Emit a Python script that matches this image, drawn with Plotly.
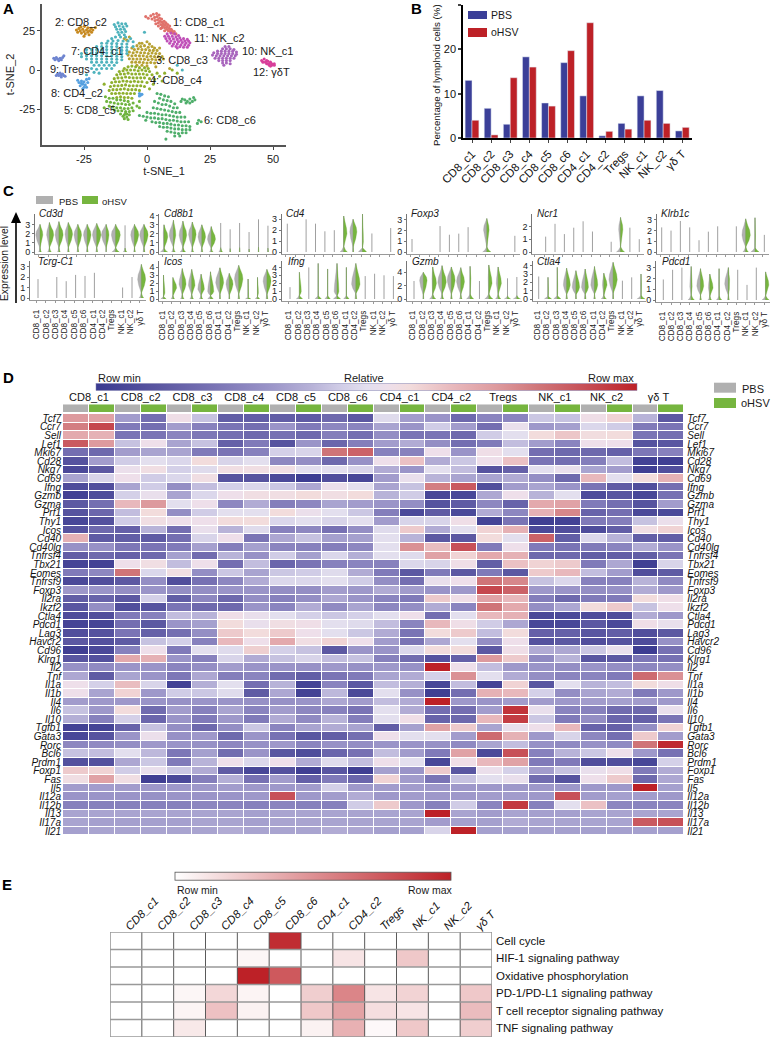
import plotly.graph_objects as go

W, H = 777, 1039
FONT = "Liberation Sans"
CLUSTERS = ["CD8_c1","CD8_c2","CD8_c3","CD8_c4","CD8_c5","CD8_c6","CD4_c1","CD4_c2","Tregs","NK_c1","NK_c2","γδ T"]

# ---------- Panel A: t-SNE points ----------
pts_c1 = [(0.5,33),(1.5,34.5),(2,32.5),(2.5,35.5),(3,33.5),(3.2,31.5),(3.8,36),(4,34),(4.2,32),(4.5,30),(4.8,35),(5,33),(5.2,31),(5.5,29),(5.8,32.5),(6,30.5),(6.2,28),(6.5,29.5),(6.8,31),(7,27),(7.2,28.5),(7.5,30),(7.8,26),(8,27.5),(8.2,29),(8.5,25),(8.8,26.5),(9,28),(9.3,24.5),(9.6,26),(10,25),(10.3,23.5),(10.8,24.5),(5.5,26.5),(6,27),(-0.5,34),(3.5,29.5),(4.5,28),(7,25),(11.5,23)]
pts_c2 = [(-28,25.5),(-27.5,24),(-27,26.5),(-26.5,25),(-26.2,27.5),(-26,23.5),(-25.5,26),(-25,24.5),(-24.8,27.8),(-24.5,23),(-24,25.5),(-23.5,26.8),(-23.5,24),(-23,22.5),(-22.8,25),(-22.2,26.5),(-22,24),(-21.5,25.5),(-25,21.5),(-20.5,27)]
pts_c3 = [(-2,17),(0,18),(1,16.5),(-4,15.5),(-2.5,15),(-1,15.5),(0.5,14.5),(2,15),(3,14),(-6,14),(-5,13),(-3.5,13.5),(-2,13),(-0.5,13),(1,12.5),(2.5,12.5),(4,12.5),(-7,11.5),(-5.5,11),(-4,11.5),(-2.5,11),(-1,11),(0.5,10.5),(2,10.8),(3.5,10.5),(5,10.5),(-7.5,9.5),(-6,9),(-4.5,9.2),(-3,9),(-1.5,9),(0,8.5),(1.5,8.8),(3,8.5),(4.5,8.5),(6,8.5),(-7,7.2),(-5.5,7),(-4,7),(-2.5,7),(-1,6.8),(0.5,6.5),(2,6.8),(3.5,6.5),(5,6.5),(-6,5),(-4.5,5),(-3,5),(-1.5,4.8),(0,4.5),(1.5,4.8),(3,4.5),(-4,3),(-2,3),(0,2.5),(5,14),(6.5,7),(-3,17),(3.5,2),(9,1),(-9,20),(-8,19),(-7,21)]
pts_c4 = [(-9,1),(-7.5,2),(-6,2.5),(-4.5,2),(-3,1.5),(-1,1.5),(0.5,1),(-11,-1),(-9.5,-0.5),(-8,0),(-6.5,0),(-5,0),(-3.5,-0.5),(-2,0),(-0.5,-0.5),(1,-1),(-12,-3),(-10.5,-2.5),(-9,-2.5),(-7.5,-2),(-6,-2.5),(-4.5,-2.5),(-3,-2.5),(-1.5,-2.5),(0,-3),(2,-3),(-13,-5.5),(-11.5,-5),(-10,-5),(-8.5,-4.5),(-7,-4.8),(-5.5,-5),(-4,-5),(-2.5,-5),(-1,-5),(1,-5.5),(3,-6),(-14,-8),(-12.5,-7.5),(-11,-7.5),(-9.5,-7),(-8,-7.2),(-6.5,-7.5),(-5,-7.2),(-3.5,-7.5),(-2,-7.5),(0,-8),(2.5,-9),(-14.5,-10.5),(-13,-10),(-11.5,-10),(-10,-9.8),(-8.5,-9.5),(-7,-10),(-5.5,-10),(-4,-10),(-2.5,-10),(-1,-10.5),(1,-12),(-15,-13),(-13.5,-12.5),(-12,-12.5),(-10.5,-12.3),(-9,-12),(-7.5,-12.5),(-6,-12.5),(-4.5,-12.5),(-3,-13),(-14,-15),(-12.5,-15),(-11,-14.8),(-9.5,-14.8),(-8,-15),(-6.5,-15),(-5,-15),(-12,-17.5),(-10.5,-17),(-9,-17.5),(-7.5,-17.5),(-6,-18),(5,-4),(6,-7),(-17,-9),(4,-2),(7,-2),(10,0),(12,-2)]
pts_c5 = [(-16.5,-17),(-15,-18),(-13.5,-18),(-12,-19),(-10.5,-19),(-9,-19.5),(-7.5,-20),(-16,-20),(-14.5,-20.5),(-13,-21),(-11.5,-21.5),(-10,-21.5),(-8.5,-22),(-7,-22),(-5.5,-21),(-15,-23),(-13.5,-23.5),(-12,-24),(-10.5,-24),(-9,-24.5),(-7.5,-24.5),(-6,-24),(-4,-23),(-13,-25.5),(-11.5,-26),(-10,-26),(-8.5,-26.5),(-7,-26.5),(-5.5,-26),(-10.5,-28),(-9,-28.5),(-8,-28),(-7,-28.5),(-9.5,-29.5),(-8,-30),(-7.5,-31.5),(-9,-31),(-8.5,-27.5),(-3,-20),(-17,-24),(-3,-24)]
pts_c6 = [(4,-15),(5.5,-15.5),(7,-16.5),(8.5,-17),(5,-18),(6.5,-19),(8,-19.5),(9.5,-20),(11,-21.5),(3,-20),(4.5,-21),(6,-22),(7.5,-22),(9,-23),(10.5,-24),(12,-24),(2.5,-24),(4,-24.5),(5.5,-25),(7,-25.5),(8.5,-26),(10,-26.5),(11.5,-27),(13,-27),(0,-27),(1.5,-27.5),(3,-27.5),(4.5,-28),(6,-28.5),(7.5,-28.5),(9,-29),(10.5,-29.5),(12,-30),(13.5,-30),(15,-30),(-3,-29),(-1.5,-29.5),(0,-30),(1.5,-30.5),(3,-30.5),(4.5,-31),(6,-31),(7.5,-31.5),(9,-32),(10.5,-32),(12,-32.5),(13.5,-33),(15,-33),(16.5,-33),(-0.5,-32),(2,-33),(3.5,-33.5),(5,-33.5),(6.5,-34),(8,-34),(9.5,-34.5),(11,-35),(12.5,-35),(14,-35.5),(15.5,-35.5),(17,-36),(5,-36),(6.5,-36.5),(8,-36.5),(9.5,-37),(11,-37.5),(12.5,-37.5),(14,-38),(15.5,-38),(17,-38),(8,-39),(9.5,-39.5),(11,-40),(12.5,-40.5),(14,-40),(15.5,-40),(11,-42),(13,-42),(7.5,-44),(13.5,-20),(15,-19),(16,-20),(17,-18.5),(18,-20),(19,-19),(15.5,-21),(17,-21),(14,-18.5),(18.5,-17.5),(20.5,-32),(21.5,-33),(20,-34)]
pts_c7 = [(-13,29),(-11.5,30),(-10,29.5),(-8.5,29.5),(-12.5,27.5),(-11,28),(-9.5,27.5),(-8,28),(-12,26),(-10.5,26),(-9,26),(-11.5,24),(-10,24),(-8.5,24.5),(-11,22.5),(-9,22.5),(-12.5,21),(-10.5,21),(-8.5,21),(-14,20),(-6.5,20),(-15.5,18.5),(-13.5,18.5),(-11.5,18.8),(-9.5,18.5),(-7.5,18.5),(-5.5,18),(-18,17),(-16,17),(-14,16.8),(-12,16.8),(-10,16.5),(-8,16.5),(-20,15),(-18,15),(-16,15),(-14,14.8),(-12,15),(-10,14.5),(-8,14.5),(-5.5,15),(-24,13),(-22,13),(-20,13),(-18,13),(-16,13),(-14,13),(-12,12.8),(-10,12.5),(-8,12.5),(-26,10.5),(-24,11),(-22,11),(-20,11),(-18,11),(-16,11),(-14,11),(-12,10.8),(-10,10.5),(-8,10.5),(-26,8.5),(-24,9),(-22,9),(-20,9),(-18,9),(-16,9),(-14,9),(-12,8.8),(-10,8.5),(-24,7),(-22,7),(-20,7),(-18,7),(-16,7),(-14,7),(-12,6.8),(-10,6.5),(-22,5),(-20,5),(-18,5),(-16,5),(-14,5),(-12,4.8),(-21,3),(-19,3),(-17,3),(-15,3),(-13,3),(-22,1),(-20,0.5),(-18,1),(-16,1),(-14,1),(-21,-1.5),(-19,-2),(-24,-3),(12,3),(14,0),(-1,24)]
pts_c8 = [(-27,-8),(-26,-7),(-25.5,-9),(-26.5,-10),(-25,-11),(-25,-7.5),(-24.5,-9.5),(-24,-6),(-23.5,-8),(-25.5,-12),(-26,-8.5),(-24,-11),(-23,-5.5),(-27.5,-6.5),(-3,-15),(-2.5,-16),(-2,-15.5),(-3,-16.5)]
pts_c9 = [(-37,7.5),(-36.5,6.5),(-36,8),(-35.5,7),(-35,6),(-34.5,7.5),(-34,6.5),(-33.5,8),(-33,9),(-35.5,-2.5),(-35,-3.5),(-34.5,-2),(-34,-3),(-34,-4.5),(-33.5,-2.5),(-33,-3.5),(-32.5,-4),(-36,-3.5)]
pts_c10 = [(31,15),(32.5,15),(30,13.5),(31.5,13.5),(33,13.5),(34.5,13),(28,12),(29.5,12),(31,12),(32.5,12),(34,12),(35.5,11.5),(26.5,11),(28,10.5),(29.5,10.5),(31,10.5),(32.5,10.5),(34,10.5),(35.5,10),(26,9.5),(27.5,9),(29,9),(30.5,9),(32,9),(33.5,9),(35,9),(27,7.5),(28.5,7.5),(30,7.5),(31.5,7.5),(33,7.5),(34.5,7.5),(28.5,6),(30,6),(31.5,6),(33,6),(30,4.5),(31.5,4.5),(33,4),(30.5,3)]
pts_c11 = [(8,23),(9.5,23.5),(11,23),(12.5,22),(7,21.5),(8.5,21.5),(10,21.5),(11.5,21),(13,20.5),(14.5,20),(16,19.5),(7.5,20),(9,20),(10.5,19.8),(12,19.5),(13.5,19),(15,18.5),(16.5,18.5),(8,18.5),(9.5,18.5),(11,18),(12.5,18),(14,17.5),(15.5,17.2),(17,17.3),(9,17),(10.5,16.5),(12,16.5),(13.5,16),(15,16),(16.5,15.8),(10,15.3),(11.5,15),(13,14.8),(14.5,14.5),(16,14.5),(12,14)]
pts_c12 = [(45.5,6),(46.5,7),(47.5,6),(46,5),(47,5),(48,5.5),(49,5),(47.5,4),(48.5,4),(49.5,4),(50.5,4),(48.5,3),(49.5,3),(50.5,3),(49,2.5)]
tsne_sets = [pts_c1,pts_c2,pts_c3,pts_c4,pts_c5,pts_c6,pts_c7,pts_c8,pts_c9,pts_c10,pts_c11,pts_c12]
tsne_colors = ["#e0726b","#c7891f","#b7a132","#8fb02e","#6fb43f","#4fae6b","#4fb3bd","#55a0e0","#6f85d0","#a865bd","#c050b8","#d83f9a"]
tsne_labels = ["1: CD8_c1","2: CD8_c2","3: CD8_c3","4: CD8_c4","5: CD8_c5","6: CD8_c6","7: CD4_c1","8: CD4_c2","9: Tregs","10: NK_c1","11: NK_c2","12: γδT"]

# ---------- Panel B ----------
pbs_pct = [13,6.7,3.1,18.3,7.9,17,9.5,0.5,3.3,9.5,10.7,1.6]
ohsv_pct = [4,0.7,13.6,16,7.2,19.7,26,1.5,2,4,3.3,2.4]

# ---------- Panel C: violin summaries (top of range, body level, half-widths, width at zero) ----------
cd3d_top=[3.0,3.2,3.3,3.2,3.0,3.0,3.1,3.0,3.0,2.9,3.0,3.0]
cd3d_mid=[2,2,2,2.1,2,2,2,2,2,0,2,2]
cd3d_pbs=[.45,.3,.4,.35,.4,.4,.45,.5,.45,0,.4,.45]
cd3d_ohs=[.3,.45,.45,.45,.4,.4,.45,.3,.5,0,.45,.45]
cd3d_bas=[.15,.2,.15,.1,.1,.1,.1,0,.4,.2,.1,.1]
cd8b1_top=[3.0,3.5,3.4,3.3,3.0,2.8,3.2,2.5,3.2,2.2,3.6,2.9]
cd8b1_mid=[1.8,2,2,2.1,1.8,1.5,0,0,0,0,0,0]
cd8b1_pbs=[.1,.45,.4,.4,.4,.4,0,0,0,0,0,0]
cd8b1_ohs=[.4,.25,.4,.4,.4,.45,0,0,0,0,0,0]
cd8b1_bas=[.4,.2,.3,.15,.1,.2,.2,.05,.05,.05,.05,.05]
cd4_top=[2.6,0,3.0,2.6,1.9,2.0,3.3,3.0,3.5,1.7,0,2.2]
cd4_mid=[0,0,0,0,0,0,1.8,2,1.0,0,0,0]
cd4_pbs=[0,0,0,0,0,0,.05,.35,.05,0,0,0]
cd4_ohs=[0,0,0,0,0,0,.35,.4,.1,0,0,0]
cd4_bas=[0,0,0,0,0,0,.4,.05,.45,0,0,0]
foxp3_top=[1.2,0,0,2.4,1.6,1.7,2.3,0,3.1,0,0,1.5]
foxp3_mid=[0,0,0,0,0,0,0,0,2.2,0,0,0]
foxp3_pbs=[0,0,0,0,0,0,0,0,.35,0,0,0]
foxp3_ohs=[0,0,0,0,0,0,0,0,.25,0,0,0]
foxp3_bas=[0,0,0,0,0,0,0,0,.45,0,0,0]
ncr1_top=[0,1.2,2.2,1.4,1.9,2.4,1.6,0,0.8,2.7,1.9,1.0]
ncr1_mid=[0,0,0,0,0,0,0,0,0,1.9,0,0]
ncr1_pbs=[0,0,0,0,0,0,0,0,0,.2,0,0]
ncr1_ohs=[0,0,0,0,0,0,0,0,0,.25,0,0]
ncr1_bas=[0,0,0,0,0,0,0,0,0,.45,0,0]
klrb1c_top=[2.3,2.0,2.9,2.3,1.1,1.9,2.4,0,2.4,3.1,3.2,1.6]
klrb1c_mid=[0,0,0,0,0,0,0,0,0,1.7,1.0,0]
klrb1c_pbs=[0,0,0,0,0,0,0,0,0,.4,.02,0]
klrb1c_ohs=[0,0,0,0,0,0,0,0,0,.5,.05,0]
klrb1c_bas=[0,0,0,0,0,0,0,0,0,.3,.45,0]
tcrg_top=[1.8,0,2.0,1.6,2.2,2.1,2.4,0,0,1.0,2.0,3.2]
tcrg_mid=[0,0,0,0,0,0,0,0,0,0,0,1.9]
tcrg_pbs=[0,0,0,0,0,0,0,0,0,0,0,.4]
tcrg_ohs=[0,0,0,0,0,0,0,0,0,0,0,.45]
tcrg_bas=[0,0,0,0,0,0,0,0,0,0,0,.25]
icos_top=[3,2.7,3.8,3.7,3.1,3.4,3.9,3.2,4.2,2.5,2.7,3.7]
icos_mid=[.8,1.5,2,1.8,1.3,1,2.2,2,2.7,.3,.8,2.4]
icos_pbs=[.02,0,.35,.35,.35,.3,.45,.35,.45,.02,.02,.4]
icos_ohs=[.15,.4,.4,.35,.35,.35,.4,.4,.45,.05,.1,.45]
icos_bas=[.3,.2,.2,.2,.2,.3,.05,.05,.1,.3,.25,.1]
ifng_top=[1.5,3.4,4.0,4.5,3.8,4.5,4.0,4.5,2.9,3.2,3.0,2.9]
ifng_mid=[0,1,0,1,1,1,1,2,0,0,0,0]
ifng_pbs=[0,0,0,.02,.02,.3,.02,.45,0,0,0,0]
ifng_ohs=[0,.2,0,.02,.02,.2,.02,.45,0,0,0,0]
ifng_bas=[0,.35,0,.35,.3,.4,.3,.1,0,0,0,0]
gzmb_top=[2.7,4,4.8,5,4.8,4.7,4.9,2.7,5.1,4.8,3.1,3.3]
gzmb_mid=[0,3,2.5,2.7,3,2.8,2.5,0,2.5,2.5,0,0]
gzmb_pbs=[0,.4,.1,.45,.45,.45,.03,0,.08,.2,0,0]
gzmb_ohs=[0,.4,.4,.45,.4,.4,.1,0,.35,.35,0,0]
gzmb_bas=[0,.05,.35,.2,.1,.15,.4,0,.45,.3,.35,.4]
ctla4_top=[2.7,2.6,3.8,3.7,3.4,3.6,3.9,3.1,4.4,2.2,2.6,3]
ctla4_mid=[0,.8,1,1.8,1.5,1.5,1.8,1.8,2.5,0,0,1.2]
ctla4_pbs=[0,.01,.03,.35,.4,.4,.4,.15,.45,0,0,.05]
ctla4_ohs=[0,.05,.05,.4,.4,.35,.35,.35,.45,0,0,.05]
ctla4_bas=[0,.4,.4,.1,.05,.1,.1,.3,.05,0,0,.45]
pdcd1_top=[1.9,2.8,3.0,3.1,2.9,2.4,2.9,3.0,2.8,1.4,3.0,2.6]
pdcd1_mid=[0,0,0,1.3,1.4,1.2,1,1.6,0,0,0,1.5]
pdcd1_pbs=[0,0,0,.15,.4,.15,.05,.4,0,0,0,.05]
pdcd1_ohs=[0,0,0,.1,.35,.35,.02,.15,0,0,0,.35]
pdcd1_bas=[0,0,0,.35,.1,.2,.3,.1,0,0,0,.4]

# ---------- Panel D ----------
genes = ["Tcf7","Ccr7","Sell","Lef1","Mki67","Cd28","Nkg7","Cd69","Ifng","Gzmb","Gzma","Prf1","Thy1","Icos","Cd40","Cd40lg","Tnfrsf4","Tbx21","Eomes","Tnfrsf9","Foxp3","Il2ra","Ikzf2","Ctla4","Pdcd1","Lag3","Havcr2","Cd96","Klrg1","Il2","Tnf","Il1a","Il1b","Il4","Il6","Il10","Tgfb1","Gata3","Rorc","Bcl6","Prdm1","Foxp1","Fas","Il5","Il12a","Il12b","Il13","Il17a","Il21"]
heat = [
[74,72,34,20,55,43,14,14,14,13,18,12,49,34,32,18,27,27,44,43,55,60,40,12],
[80,92,24,20,34,26,22,20,32,24,28,27,36,32,45,34,20,52,33,35,48,45,24,22],
[70,68,22,22,27,23,20,18,21,18,25,20,30,22,22,18,45,50,58,63,57,58,22,20],
[88,74,43,54,36,43,15,24,10,32,17,25,34,38,30,20,24,42,34,27,54,54,10,11],
[20,18,34,36,36,24,22,26,46,47,82,86,26,26,54,32,55,50,20,18,18,15,23,26],
[10,34,45,50,48,58,47,50,28,30,18,31,54,64,38,44,54,64,22,20,25,42,3,2],
[6,12,53,56,46,49,56,56,56,50,50,47,38,32,50,42,10,15,50,52,36,34,2,8],
[36,47,54,45,48,56,10,10,6,1,8,5,34,52,40,36,36,38,30,18,66,50,58,68],
[7,8,36,45,30,42,46,48,44,37,53,50,36,43,80,88,8,34,36,32,22,13,8,20],
[3,7,46,52,36,48,54,56,56,58,56,58,40,45,5,5,37,54,40,50,7,11,5,21],
[12,20,66,74,50,54,28,38,25,28,36,34,32,30,10,13,28,16,70,72,24,20,10,34],
[10,17,42,58,30,45,50,50,58,53,50,44,25,6,13,6,38,28,68,78,16,20,6,6],
[5,9,45,56,54,54,58,58,48,50,47,50,34,47,47,55,4,22,2,3,24,25,43,53],
[10,18,15,40,20,52,40,49,26,28,21,30,49,62,38,50,60,68,6,8,7,14,56,60],
[68,13,14,13,20,47,54,22,37,43,35,35,50,40,12,12,58,50,86,14,48,40,14,14],
[31,31,23,22,24,35,25,35,27,26,25,28,50,76,65,90,24,54,24,22,24,27,38,32],
[14,18,15,18,35,19,40,31,45,35,48,39,50,49,72,60,70,68,18,18,14,14,14,22],
[4,3,54,56,42,54,20,42,17,22,26,27,26,48,47,55,14,64,60,62,24,37,2,47],
[24,28,82,48,56,30,44,36,44,45,49,38,24,12,24,12,24,12,62,66,42,34,8,13],
[6,8,12,30,8,21,28,38,48,48,50,45,30,20,52,54,82,78,43,48,26,26,40,29],
[33,32,30,32,30,30,32,32,30,30,34,33,38,34,32,33,92,86,33,32,30,31,38,33],
[14,16,12,46,14,28,18,30,26,30,37,32,27,24,62,55,72,66,25,18,24,24,58,55],
[11,30,8,10,22,18,18,32,27,38,29,36,28,30,38,27,82,70,30,37,58,62,43,54],
[7,8,24,26,42,40,55,52,50,46,44,46,50,54,20,50,66,68,6,6,7,7,38,33],
[4,4,20,12,32,35,58,52,56,55,50,49,42,27,66,55,45,37,5,5,12,6,55,52],
[8,9,22,15,20,30,62,58,62,54,50,44,38,22,58,62,42,58,15,15,11,14,8,12],
[12,9,13,43,46,26,66,54,70,56,60,54,34,22,37,50,30,54,9,12,8,10,7,31],
[2,6,26,54,24,50,49,61,46,43,12,32,32,48,58,58,12,55,38,37,44,52,1,21],
[11,9,70,68,32,26,47,38,43,47,42,43,26,19,10,15,74,62,29,40,11,12,23,21],
[31,29,32,32,27,30,34,32,32,31,33,31,33,31,100,54,42,33,32,30,32,30,28,30],
[37,13,36,32,23,37,25,27,19,14,22,24,36,38,46,76,50,38,30,27,27,24,84,76],
[54,46,65,47,3,39,50,20,40,4,27,12,42,39,5,42,4,60,11,50,40,42,58,55],
[54,36,60,33,45,44,49,13,37,3,41,6,50,31,2,20,68,66,46,30,36,38,24,33],
[34,33,33,32,31,32,32,31,31,32,37,34,42,38,100,33,32,34,34,33,34,35,34,33],
[43,33,58,19,34,26,36,27,34,28,26,22,50,38,20,20,34,96,52,27,26,19,18,52],
[39,26,46,17,32,24,33,24,38,29,40,25,50,55,16,18,66,94,44,24,30,17,15,22],
[3,4,16,43,30,18,30,44,27,36,38,36,14,35,72,62,36,52,54,66,16,15,30,60],
[5,10,32,53,31,33,18,32,21,11,14,20,54,50,50,34,84,68,33,47,28,20,62,34],
[28,29,30,33,32,31,28,31,33,27,31,30,32,32,31,29,36,42,31,29,31,29,82,98],
[43,42,50,41,23,35,19,32,11,7,17,21,42,34,24,72,6,90,26,40,44,54,33,21],
[9,9,37,44,24,40,54,48,54,38,49,42,54,50,5,55,66,72,24,24,8,8,5,46],
[62,60,45,52,44,38,13,5,9,2,11,2,35,32,62,11,53,46,34,43,52,55,24,38],
[56,72,56,2,6,25,39,21,34,15,24,17,60,34,22,43,50,52,19,10,54,62,18,37],
[34,34,34,33,33,33,34,33,33,34,46,33,34,34,33,33,33,33,33,33,33,33,100,35],
[32,32,32,31,32,32,32,33,90,33,34,38,33,34,33,33,34,34,33,90,34,35,34,33],
[26,26,26,26,26,28,27,26,27,26,26,45,62,33,26,45,27,95,26,50,64,28,27,27],
[36,36,36,36,36,36,36,35,36,36,36,36,36,36,100,36,34,36,35,35,36,36,36,36],
[36,35,35,35,35,36,36,35,36,36,36,36,36,36,34,35,35,38,36,36,36,36,88,90],
[35,36,36,36,36,36,38,36,36,36,38,37,35,35,47,100,35,35,35,35,35,35,35,35],
]
group_band = [[0,1]*12]

# ---------- Panel E ----------
pathways = ["Cell cycle","HIF-1 signaling pathway","Oxidative phosphorylation","PD-1/PD-L1 signaling pathway","T cell receptor signaling pathway","TNF signaling pathway"]
enrich = [
[0,0,0,0,0,95,0,0,0,0,0,0],
[0,0,0,0,4,0,0,12,0,25,0,0],
[0,0,0,0,100,75,0,0,0,0,0,0],
[0,0,4,18,5,0,22,55,12,20,0,25],
[0,0,5,28,6,0,25,42,15,12,0,30],
[0,0,10,0,0,0,6,35,3,25,0,22],
]

# ---------- helpers ----------
fig = go.Figure()
ann, shp, lay = [], [], {}
def px(x): return x/W
def py(y): return 1-y/H
def axes(n, x0, x1, y0, y1, xkw, ykw):
    s = "" if n == 1 else str(n)
    lay["xaxis"+s] = dict(domain=[px(x0),px(x1)], anchor="y"+s, automargin=False, **xkw)
    lay["yaxis"+s] = dict(domain=[py(y1),py(y0)], anchor="x"+s, automargin=False, **ykw)
    return ("x"+s, "y"+s)
def text(t, x, y, size=11, anchor="left", bold=False, angle=0, color="#1a1a1a", italic=False):
    if bold: t = "<b>"+t+"</b>"
    if italic: t = "<i>"+t+"</i>"
    ann.append(dict(text=t, x=px(x), y=py(y), xref="paper", yref="paper", xanchor=anchor, yanchor="middle",
                    showarrow=False, textangle=angle, font=dict(size=size, color=color, family=FONT)))
def box(x0, y0, x1, y1, color):
    shp.append(dict(type="rect", xref="paper", yref="paper", x0=px(x0), x1=px(x1), y0=py(y1), y1=py(y0),
                    fillcolor=color, line=dict(width=0), layer="above"))
GRAY, GREEN = "#b0b0b0", "#76b53f"

# panel letters
for l,x,y in [("A",8,9),("B",416,9),("C",8,190),("D",8,377),("E",7,884)]:
    text(l,x,y,size=15,anchor="center",bold=True,color="#000")

# ---------- A ----------
xa, ya = axes(1,42,286,4,145,
    dict(range=[(42-147)/2.52,(286-147)/2.52], tickvals=[-25,0,25,50], ticktext=["-25","0","25","50"], ticks="outside", ticklen=3, showline=True, linecolor="#555", linewidth=1.5, showgrid=False, zeroline=False, tickfont=dict(size=11,family=FONT,color="#222"), title=dict(text="t-SNE_1",font=dict(size=11,family=FONT,color="#222"),standoff=0)),
    dict(range=[(70-145)/1.57,(70-4)/1.57], tickvals=[-25,0,25], ticktext=["-25","0","25"], ticks="outside", ticklen=3, showline=True, linecolor="#555", linewidth=1.5, showgrid=False, zeroline=False, tickfont=dict(size=11,family=FONT,color="#222"), title=dict(text="t-SNE_2",font=dict(size=11,family=FONT,color="#222"),standoff=2)))
for pts,c in zip(tsne_sets,tsne_colors):
    fig.add_trace(go.Scatter(x=[p[0] for p in pts],y=[p[1] for p in pts],mode="markers",marker=dict(size=3.1,color=c,line=dict(width=0)),xaxis=xa,yaxis=ya,showlegend=False,hoverinfo="skip"))
for (lab,x,y) in zip(tsne_labels,[171,53.3,154.3,148.3,61.7,201.7,69.3,49,47.7,240,191.7,250.7],[22,22,59.7,80,109.7,120,51,93.3,69,51,38.3,72.3]):
    text(lab,x,y,size=11)

# ---------- B ----------
sp=(682.3-472)/11
xb, yb = axes(2,463,692,5,138,
    dict(range=[(463-472)/sp,(692-472)/sp], tickvals=list(range(12)), ticktext=CLUSTERS, tickangle=-45, ticks="outside", ticklen=3, showline=True, linecolor="#000", linewidth=1.5, showgrid=False, zeroline=False, tickfont=dict(size=11.5,family=FONT,color="#111")),
    dict(range=[0,30], tickvals=[0,10,20,30], ticks="outside", ticklen=3, tickwidth=1.5, showline=True, linecolor="#000", linewidth=1.5, showgrid=False, zeroline=False, tickfont=dict(size=11,family=FONT,color="#111")))
xs=list(range(12))
fig.add_trace(go.Bar(x=xs,y=pbs_pct,marker_color="#3b3f98",xaxis=xb,yaxis=yb,showlegend=False,offsetgroup="a",hoverinfo="skip"))
fig.add_trace(go.Bar(x=xs,y=ohsv_pct,marker_color="#bd2127",xaxis=xb,yaxis=yb,showlegend=False,offsetgroup="b",hoverinfo="skip"))
box(468,11,487,19,"#3b3f98"); box(468,28,487,37,"#bd2127")
text("PBS",489,15,size=10.5); text("oHSV",489,32,size=10.5)
text("Percentage of lymphoid cells (%)",437,75,size=9.7,anchor="center",angle=-90,color="#111")

# ---------- C ----------
violin_data = [("Cd3d",cd3d_top,cd3d_mid,cd3d_pbs,cd3d_ohs,cd3d_bas),("Cd8b1",cd8b1_top,cd8b1_mid,cd8b1_pbs,cd8b1_ohs,cd8b1_bas),("Cd4",cd4_top,cd4_mid,cd4_pbs,cd4_ohs,cd4_bas),("Foxp3",foxp3_top,foxp3_mid,foxp3_pbs,foxp3_ohs,foxp3_bas),("Ncr1",ncr1_top,ncr1_mid,ncr1_pbs,ncr1_ohs,ncr1_bas),("Klrb1c",klrb1c_top,klrb1c_mid,klrb1c_pbs,klrb1c_ohs,klrb1c_bas),("Tcrg-C1",tcrg_top,tcrg_mid,tcrg_pbs,tcrg_ohs,tcrg_bas),("Icos",icos_top,icos_mid,icos_pbs,icos_ohs,icos_bas),("Ifng",ifng_top,ifng_mid,ifng_pbs,ifng_ohs,ifng_bas),("Gzmb",gzmb_top,gzmb_mid,gzmb_pbs,gzmb_ohs,gzmb_bas),("Ctla4",ctla4_top,ctla4_mid,ctla4_pbs,ctla4_ohs,ctla4_bas),("Pdcd1",pdcd1_top,pdcd1_mid,pdcd1_pbs,pdcd1_ohs,pdcd1_bas)]
# left edge, first centre, spacing, zero px, px per unit, top px, ticks, title x
geom = [(35,40,9.45,252,9.2,214,[0,1,2,3],37),(159.3,164,9.45,252,9.07,214,[0,1,2,3,4],162),(281.7,287.3,9.4,252,10.9,214,[0,1,2,3],284),(407,412,9.35,252,10.8,214,[0,1,2,3],409),(532.3,536.3,9.36,252,12.8,214,[0,1,2],535),(656.7,661.7,9.33,252,10.7,214,[0,1,2,3],659),
        (30,38,9.4,298,10.5,261,[0,1,2,3],36),(159.3,163.5,9.4,299,8,261,[0,1,2,3,4],162),(281.7,290,9.4,299,7.9,261,[0,1,2,3,4],286),(407,414,9.35,299,6.67,261,[0,2,4],410),(532.7,538.7,9.3,299,8.33,261,[0,1,2,3,4],535),(656,663.3,9.3,300,10.8,261,[0,1,2,3],660)]
def half(i, side, top, mid, w, base):
    u = max(top,1)/3
    if w>0 and mid>0:
        neck = min(.45*u, mid*.4)
        ys=[0,.15*u,neck,neck+(mid-neck)*.5,mid-(mid-neck)*.1,mid+(top-mid)*.25,mid+(top-mid)*.55,top]
        ws=[base,base*.5,.015,w*.7,w,w*.85,w*.45,0]
    elif base>0:
        ys=[0,.15*u,.45*u]; ws=[base,base*.5,0]
    else:
        return [],[]
    return [i+side*v for v in ws]+[i,None], ys+[0,None]
for n,((gene,top,mid,pb,oh,ba),(L,first,s,y0,k,T,ticks,tx)) in enumerate(zip(violin_data,geom)):
    R = first+11.5*s; row2 = n>=6
    xk = dict(range=[(L-first)/s,(R-first)/s], showline=True, linecolor="#999", linewidth=1, showgrid=False, zeroline=False, ticks="outside", ticklen=1.5, tickcolor="#999",
              tickvals=[i-.15 for i in range(12)], ticktext=CLUSTERS if row2 else [""]*12, tickangle=-90, ticklabelstandoff=4, tickfont=dict(size=8.2,family=FONT,color="#222"))
    yk = dict(range=[(y0-(y0+2))/k,(y0-T)/k], tickvals=ticks, showline=True, linecolor="#777", linewidth=1, showgrid=False, zeroline=False, ticks="outside", ticklen=2, tickcolor="#777", tickfont=dict(size=9,family=FONT,color="#222"))
    xv,yv = axes(3+n,L,R,T,y0+2,xk,yk)
    sx,sy=[],[]
    for i in range(12):
        if top[i]>0:
            sx+= [i,i,None]; sy+=[0,top[i],None]
    fig.add_trace(go.Scatter(x=sx,y=sy,mode="lines",line=dict(color="#a0a0a0",width=1),xaxis=xv,yaxis=yv,showlegend=False,hoverinfo="skip"))
    for side,wd,col in ((-1,pb,GRAY),(1,oh,GREEN)):
        px_,py_=[],[]
        for i in range(12):
            a,b=half(i,side,top[i],mid[i],wd[i],ba[i]); px_+=a; py_+=b
        fig.add_trace(go.Scatter(x=px_,y=py_,mode="lines",fill="toself",fillcolor=col,line=dict(color="#9a9a9a" if side<0 else "#6aa835",width=.3),xaxis=xv,yaxis=yv,showlegend=False,hoverinfo="skip"))
    text(gene,tx,213.5 if n<6 else 262,size=10,italic=True)
box(36,196,53,204,GRAY); box(82,196,98,204,GREEN)
text("PBS",56.5,201.5,size=9.5); text("oHSV",100,201.5,size=9.5)
text("Expression level",5,264,size=10.3,anchor="center",angle=-90)
# upward arrow beside the violins
shp.append(dict(type="line",xref="paper",yref="paper",x0=px(16),x1=px(16),y0=py(303),y1=py(222),line=dict(color="#000",width=1.6),layer="above"))
shp.append(dict(type="path",xref="paper",yref="paper",path=f"M {px(11)} {py(223)} L {px(16)} {py(212)} L {px(21)} {py(223)} Z",fillcolor="#000",line=dict(width=0),layer="above"))

# ---------- D ----------
SCALE = [[0,"#3a3a90"],[.12,"#5c58a2"],[.22,"#7a74b5"],[.32,"#9a94c8"],[.40,"#b8b3d8"],[.45,"#d0cce6"],[.50,"#e3dfee"],[.54,"#eedfea"],[.58,"#f2dcdc"],[.66,"#e8b8bc"],[.74,"#dd9a9e"],[.82,"#cf7478"],[.90,"#c75058"],[1,"#bd2127"]]
gene_ticks = list(range(len(genes)))
gfont = dict(size=10,family=FONT,color="#111",style="italic")
xd,yd = axes(15,63,684.3,414,835.3,
    dict(range=[-.5,23.5],showticklabels=False,ticks="",showgrid=False,zeroline=False),
    dict(range=[48.5,-.5],tickvals=gene_ticks,ticktext=genes,ticks="",ticklen=0,showgrid=False,zeroline=False,tickfont=gfont,ticklabelstandoff=1))
fig.add_trace(go.Heatmap(z=heat,colorscale=SCALE,zmin=0,zmax=100,xgap=1,ygap=1,xaxis=xd,yaxis=yd,hoverinfo="skip",
    colorbar=dict(orientation="h",x=px(96),xanchor="left",y=py(390.5),yanchor="bottom",len=541,lenmode="pixels",thickness=7,thicknessmode="pixels",showticklabels=False,ticks="",outlinewidth=.5,outlinecolor="#8080b0",xpad=0,ypad=0)))
lay["yaxis16"]=dict(domain=lay["yaxis15"]["domain"],anchor="x15",overlaying="y15",side="right",range=[48.5,-.5],tickvals=gene_ticks,ticktext=genes,ticks="",showgrid=False,zeroline=False,tickfont=gfont,automargin=False,ticklabelstandoff=2)
fig.add_trace(go.Scatter(x=[0],y=[0],mode="none",xaxis="x15",yaxis="y16",showlegend=False,hoverinfo="skip"))
xbd,ybd = axes(17,63,684.3,404.3,412,
    dict(range=[-.5,23.5],side="top",tickvals=[i*2+.5 for i in range(12)],ticktext=CLUSTERS,ticks="",showgrid=False,zeroline=False,tickfont=dict(size=11,family=FONT,color="#111"),showline=False),
    dict(range=[-.5,.5],showticklabels=False,ticks="",showgrid=False,zeroline=False))
fig.add_trace(go.Heatmap(z=group_band,colorscale=[[0,GRAY],[1,GREEN]],showscale=False,xgap=1,xaxis=xbd,yaxis=ybd,hoverinfo="skip"))
text("Row min",96,377.5,size=11); text("Relative",364,377.5,size=11,anchor="center"); text("Row max",636,377.5,size=11,anchor="right")
box(714,382.7,736,392.7,GRAY); box(714,398,736,408,GREEN)
text("PBS",740,388.5,size=11); text("oHSV",738.5,403.5,size=11)

# ---------- E ----------
xe,ye = axes(18,110,492,932,1037,
    dict(range=[-.5,11.5],side="top",tickvals=list(range(12)),ticktext=CLUSTERS,tickangle=-45,ticks="",ticklabelstandoff=-4,showgrid=False,zeroline=False,tickfont=dict(size=11.5,family=FONT,color="#111",style="italic")),
    dict(range=[5.5,-.5],side="right",tickvals=list(range(6)),ticktext=pathways,ticks="",ticklabelstandoff=3,showgrid=False,zeroline=False,tickfont=dict(size=11.5,family=FONT,color="#111")))
fig.add_trace(go.Heatmap(z=enrich,colorscale=[[0,"#ffffff"],[1,"#bd2127"]],zmin=0,zmax=100,xaxis=xe,yaxis=ye,hoverinfo="skip",
    colorbar=dict(orientation="h",x=px(175),xanchor="left",y=py(881.5),yanchor="bottom",len=276,lenmode="pixels",thickness=8,thicknessmode="pixels",showticklabels=False,ticks="",outlinewidth=.8,outlinecolor="#555",xpad=0,ypad=0)))
for i in range(13):
    shp.append(dict(type="line",xref=xe,yref="paper",x0=i-.5,x1=i-.5,y0=py(1037),y1=py(932),line=dict(color="#5a5a5a",width=1),layer="above"))
for j in range(7):
    shp.append(dict(type="line",xref="paper",yref=ye,x0=px(110),x1=px(492),y0=j-.5,y1=j-.5,line=dict(color="#999999",width=1.5),layer="above"))
text("Row min",175,890,size=10.5); text("Row max",455,890,size=10.5,anchor="right")

fig.update_layout(width=W,height=H,margin=dict(l=0,r=0,t=0,b=0,autoexpand=False),paper_bgcolor="white",plot_bgcolor="white",
    showlegend=False,barmode="group",bargap=.28,bargroupgap=0,annotations=ann,shapes=shp,font=dict(family=FONT),**lay)
fig.write_html("out.html",config={"displayModeBar":False},post_script="document.body.style.margin='0';document.documentElement.style.overflow='hidden';")
